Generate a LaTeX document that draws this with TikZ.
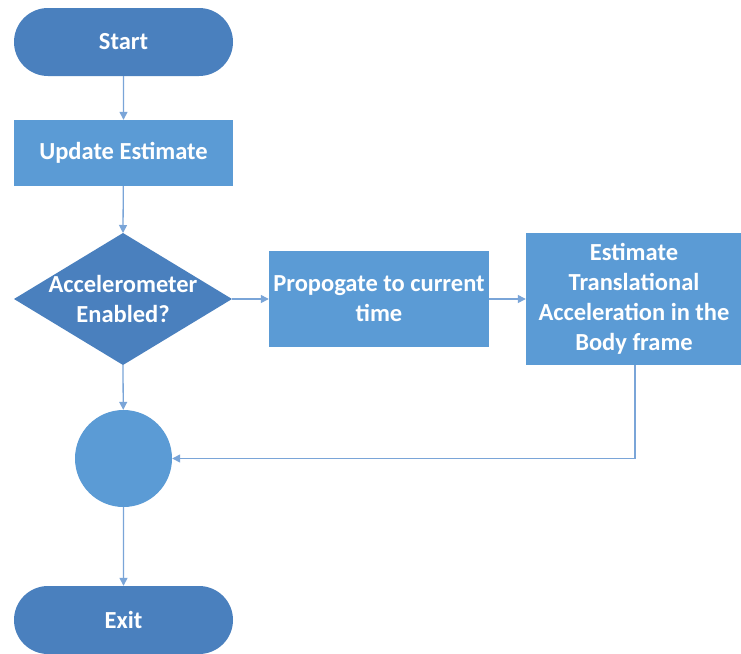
\documentclass[tikz,border=0pt]{standalone}
\usepackage{fontspec}
\setmainfont{Carlito}
\usetikzlibrary{shapes.geometric,shapes.misc,arrows.meta}
\definecolor{darkfill}{HTML}{4A80BE}
\definecolor{lightfill}{HTML}{5B9BD5}
\definecolor{linkcol}{HTML}{7AA5D8}
\begin{document}
\begin{tikzpicture}[x=1pt,y=-1pt,
  every node/.style={font=\bfseries\fontsize{24.5}{30}\selectfont, text=white, align=center, inner sep=0pt},
  terminal/.style={rounded rectangle, fill=darkfill, minimum width=219pt, minimum height=68pt},
  process/.style={rectangle, fill=lightfill},
  junction/.style={circle, fill=lightfill, minimum size=97pt},
  link/.style={draw=linkcol, line width=1.3pt, -{Triangle[length=8pt,width=8pt]}}]
\useasboundingbox (0,0) rectangle (741,653);
\path[fill=white] (0,0) rectangle (741,653);
% shapes
\node[terminal] (start) at (123.5,42) {Start};
\node[process, minimum width=219pt, minimum height=66pt] (update) at (123.5,153) {Update Estimate};
\path[fill=darkfill] (14,299) -- (123,233) -- (232,299) -- (123,365) -- cycle;
\coordinate (dtop) at (123,233);
\coordinate (dbot) at (123,365);
\coordinate (dright) at (232,299);
\node (decision) at (123,299) {Accelerometer\\Enabled?};
\node[process, minimum width=220pt, minimum height=96pt] (prop) at (379,299) {Propogate to current\\time};
\node[process, minimum width=216pt, minimum height=132pt] (est) at (634,299) {Estimate\\Translational\\Acceleration in the\\Body frame};
\coordinate (estout) at (635,365);
\node[junction] (join) at (123.5,458.5) {};
\node[terminal] (exit) at (123.5,620) {Exit};
% connectors
\draw[link] (start) -- (update);
\draw[link] (update) -- (dtop);
\draw[link] (dright) -- (prop);
\draw[link] (prop) -- (est);
\draw[link] (dbot) -- (join);
\draw[link] (estout) |- (join);
\draw[link] (join) -- (exit);
\end{tikzpicture}
\end{document}
